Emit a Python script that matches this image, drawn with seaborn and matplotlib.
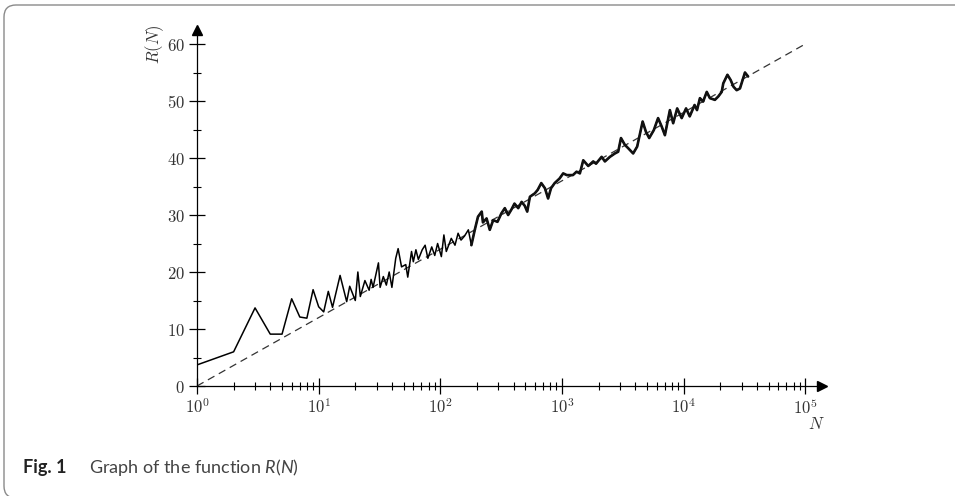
import numpy as np
import pandas as pd
import matplotlib
matplotlib.use("Agg")
import matplotlib.pyplot as plt
import matplotlib.ticker as mticker
from matplotlib.patches import FancyBboxPatch
from matplotlib.transforms import IdentityTransform
import seaborn as sns

# R(N)
n_vals = [1, 2, 3, 4, 5, 6, 7, 8, 9, 10, 11, 12, 13,
          15, 17, 18, 20, 21, 22, 24, 26, 27, 28, 31, 32, 34, 36, 38, 40,
          43, 45, 48, 52, 54, 58, 60, 63, 66, 71, 75, 79, 85, 90, 95,
          102, 107, 112, 123, 132, 140, 148, 158, 170, 180, 192, 204, 219,
          224, 240, 255, 272, 295, 318, 339, 361, 385, 407, 437, 466, 495,
          518, 545, 598, 631, 676, 724, 769, 813, 871, 955,
          1023, 1096, 1230, 1318, 1403, 1496, 1644, 1807, 1905, 2118, 2254,
          2477, 2723, 2897, 3055, 3289, 3508, 3846, 4150, 4603, 4898, 5212,
          5689, 6166, 6607, 7015, 7709, 8204, 8851, 9638,
          10470, 11220, 12300, 12880, 13610, 14450, 15490, 16440, 18070,
          19280, 20560, 21180, 22910, 24320, 25700, 27290, 29040, 30550,
          31920, 33880]
r_vals = [3.7, 6.0, 13.7, 9.1, 9.1, 15.3, 12.1, 11.9, 16.9, 13.9, 13.0, 16.6, 13.8,
          19.4, 14.8, 17.5, 15.0, 20.0, 15.7, 18.5, 16.8, 18.7, 17.3, 21.6, 17.3, 19.2, 17.7, 20.0, 17.3,
          22.4, 24.1, 20.9, 21.3, 19.1, 23.6, 21.8, 23.9, 22.2, 23.9, 24.7, 22.4, 24.4, 22.9, 25.0,
          22.7, 26.5, 23.6, 25.9, 24.7, 26.8, 25.6, 26.3, 27.4, 24.7, 27.4, 29.7, 30.6,
          28.7, 29.4, 27.4, 29.1, 28.8, 30.3, 31.2, 30.0, 31.0, 32.0, 31.2, 32.3, 31.6,
          30.6, 33.2, 33.8, 34.4, 35.6, 34.7, 32.9, 34.7, 35.6, 36.4,
          37.3, 37.0, 37.0, 37.6, 37.3, 39.6, 38.6, 39.4, 39.0, 40.2, 39.4,
          40.2, 40.8, 41.1, 43.5, 42.3, 41.7, 40.8, 42.0, 46.4, 44.6, 43.5,
          44.9, 47.0, 45.5, 44.0, 48.4, 46.1, 48.7, 47.0,
          48.7, 47.3, 49.3, 48.4, 50.5, 49.9, 51.6, 50.5, 50.2,
          50.8, 51.6, 53.1, 54.6, 53.7, 52.5, 51.9, 52.2, 53.7,
          55.0, 54.3]

# dashed reference line
ref_n = [1, 100000]
ref_r = [0, 60]

x_ticks = [1, 10, 100, 1000, 10000, 100000]
x_labels = [r"$10^{0}$", r"$10^{1}$", r"$10^{2}$", r"$10^{3}$", r"$10^{4}$", r"$10^{5}$"]
y_ticks = [0, 10, 20, 30, 40, 50, 60]
y_labels = [r"$0$", r"$10$", r"$20$", r"$30$", r"$40$", r"$50$", r"$60$"]

df = pd.DataFrame({"N": n_vals, "R": r_vals})
df_ref = pd.DataFrame({"N": ref_n, "R": ref_r})

sns.set_style("white")
plt.rcParams["mathtext.fontset"] = "cm"
plt.rcParams["mathtext.rm"] = "Lato"
plt.rcParams["mathtext.it"] = "Lato:italic"
plt.rcParams["mathtext.bf"] = "Lato:bold"

fig = plt.figure(figsize=(9.55, 4.96), dpi=100)
ax = fig.add_axes([197 / 955, 110 / 496, (822 - 197) / 955, (386 - 30) / 496])

sns.lineplot(data=df_ref, x="N", y="R", ax=ax, color="#333333", lw=0.9,
             linestyle=(0, (6, 4)), estimator=None)
sns.lineplot(data=df, x="N", y="R", ax=ax, color="black", lw=1.1, estimator=None)
# the dense part of the curve reads as a heavier stroke
sns.lineplot(data=df[df["N"] >= 180], x="N", y="R", ax=ax, color="#111111", lw=1.9,
             estimator=None)

ax.set_xscale("log")
ax.set_xlim(1, 10 ** ((822 - 197.3) / 121.6))
ax.set_ylim(0, (386 - 30) / 5.7)

for s in ["top", "right"]:
    ax.spines[s].set_visible(False)
ax.spines["left"].set_position(("data", 1))
ax.spines["bottom"].set_position(("data", 0))
for s in ["left", "bottom"]:
    ax.spines[s].set_linewidth(0.9)
    ax.spines[s].set_color("black")

# arrow heads
ax.plot(1, 0, ">k", transform=ax.get_yaxis_transform(), clip_on=False, ms=7)
ax.plot(1, 1, "^k", transform=ax.get_xaxis_transform(), clip_on=False, ms=7)

ax.set_xticks(x_ticks)
ax.set_xticklabels(x_labels)
ax.xaxis.set_minor_locator(mticker.LogLocator(base=10, subs=np.arange(2, 10)))
ax.xaxis.set_minor_formatter(mticker.NullFormatter())
ax.set_yticks(y_ticks)
ax.set_yticklabels(y_labels)
ax.yaxis.set_minor_locator(mticker.MultipleLocator(5))

ax.tick_params(which="both", bottom=True, left=True, top=False, right=False)
ax.tick_params(which="major", direction="inout", length=11.5, width=0.9,
               color="black", labelsize=12, labelcolor="#333333")
ax.tick_params(axis="x", which="major", pad=3)
ax.tick_params(axis="y", which="major", pad=3)
ax.tick_params(which="minor", direction="inout", length=5.5, width=0.8, color="black")
ax.set_xlabel("")
ax.set_ylabel("")

fig.text(155 / 955, 1 - 44 / 496, r"$R(N)$", rotation=90, ha="center", va="center",
         fontsize=12, color="#333333")
fig.text(816 / 955, 1 - 424 / 496, r"$N$", ha="center", va="center",
         fontsize=12, color="#333333")

# caption
fig.text(23 / 955, 1 - 473 / 496, "Fig. 1", family="Lato", weight="bold",
         fontsize=13, color="#222222", va="baseline")
cap = fig.text(89 / 955, 1 - 473 / 496, r"Graph of the function $R$($N$)", family="Lato",
               fontsize=13, color="#444444", va="baseline")
cap.set_math_fontfamily("custom")

# rounded frame
frame = FancyBboxPatch((4, -2), 1000, 493, boxstyle="round,pad=0,rounding_size=12",
                       transform=IdentityTransform(), fill=False, edgecolor="#8a8a8a", lw=1)
fig.patches.append(frame)

fig.savefig("out.png", dpi=100)
